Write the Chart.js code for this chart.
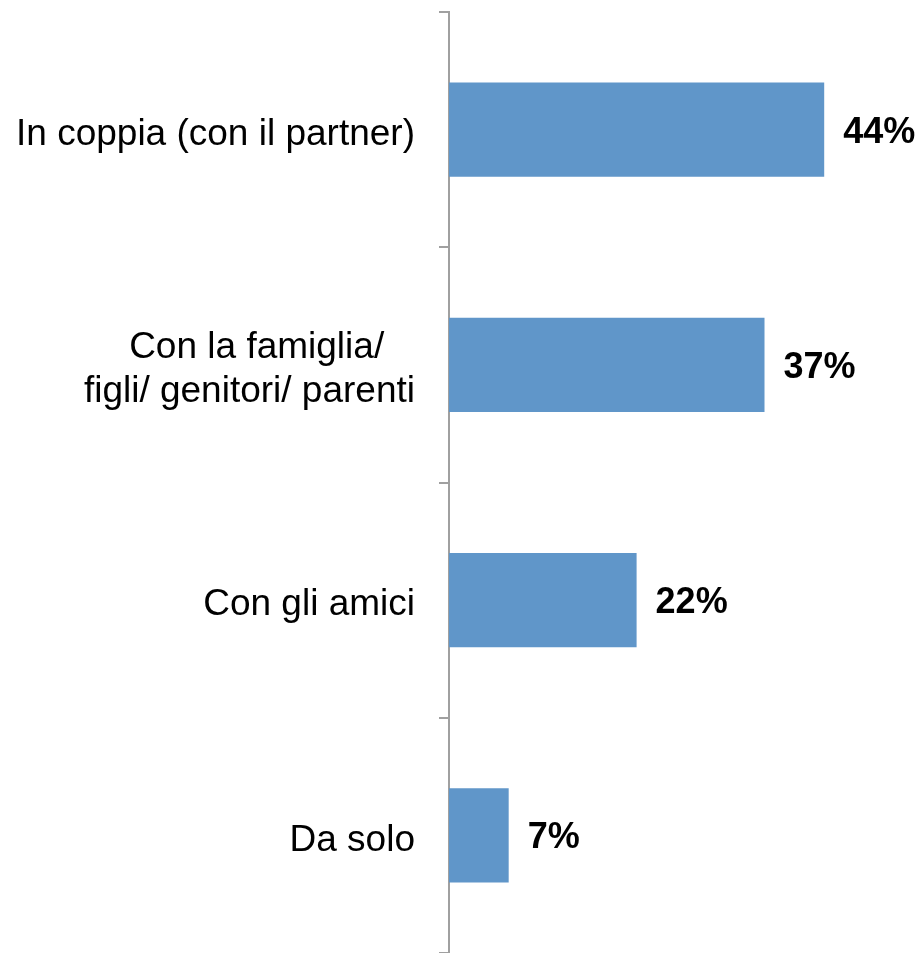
<!DOCTYPE html>
<html>
<head>
<meta charset="utf-8">
<script src="https://cdn.jsdelivr.net/npm/chart.js@4.4.1/dist/chart.umd.min.js"></script>
<style>
  html, body { margin: 0; padding: 0; background: #fff; }
  #wrap { width: 919px; height: 953px; }
</style>
</head>
<body>
<div id="wrap"><canvas id="chart" width="919" height="953"></canvas></div>
<script>
// categories and values
const categories = [
    'In coppia (con il partner)',
    ['Con la famiglia/   ', 'figli/ genitori/ parenti'],
    'Con gli amici',
    'Da solo'
];
const values = [44, 37, 22, 7];
const valueLabels = ['44%', '37%', '22%', '7%'];

const barColor = '#6096c9';
const axisColor = '#a0a0a0';

// draws the bold percentage labels to the right of each bar
const valueLabelPlugin = {
    id: 'valueLabels',
    afterDatasetsDraw(chart) {
        const ctx = chart.ctx;
        const meta = chart.getDatasetMeta(0);
        ctx.save();
        ctx.font = 'bold 36px "Liberation Sans", Arial, sans-serif';
        ctx.fillStyle = '#000';
        ctx.textAlign = 'left';
        ctx.textBaseline = 'middle';
        meta.data.forEach((bar, i) => {
            ctx.fillText(valueLabels[i], bar.x + 19, bar.y + 3);
        });
        ctx.restore();
    }
};

const ctx = document.getElementById('chart').getContext('2d');
new Chart(ctx, {
    type: 'bar',
    data: {
        labels: categories,
        datasets: [{
            data: values,
            backgroundColor: barColor,
            borderWidth: 0,
            barPercentage: 0.4,
            categoryPercentage: 1
        }]
    },
    options: {
        indexAxis: 'y',
        responsive: false,
        animation: false,
        layout: {
            padding: { top: 12, right: 1, bottom: 0, left: 0 }
        },
        plugins: {
            legend: { display: false },
            tooltip: { enabled: false }
        },
        scales: {
            x: {
                display: false,
                min: 0,
                max: 55
            },
            y: {
                afterFit(scale) {
                    scale.width = 449;
                    scale.paddingTop = 0;
                    scale.paddingBottom = 0;
                },
                grid: {
                    drawOnChartArea: false,
                    drawTicks: true,
                    tickLength: 10,
                    color: axisColor,
                    lineWidth: 2
                },
                border: {
                    display: true,
                    color: axisColor,
                    width: 2
                },
                ticks: {
                    color: '#000',
                    padding: 24,
                    labelOffset: 5,
                    font: { family: '"Liberation Sans", Arial, sans-serif', size: 37, lineHeight: 1.17 }
                }
            }
        }
    },
    plugins: [valueLabelPlugin]
});
</script>
</body>
</html>
